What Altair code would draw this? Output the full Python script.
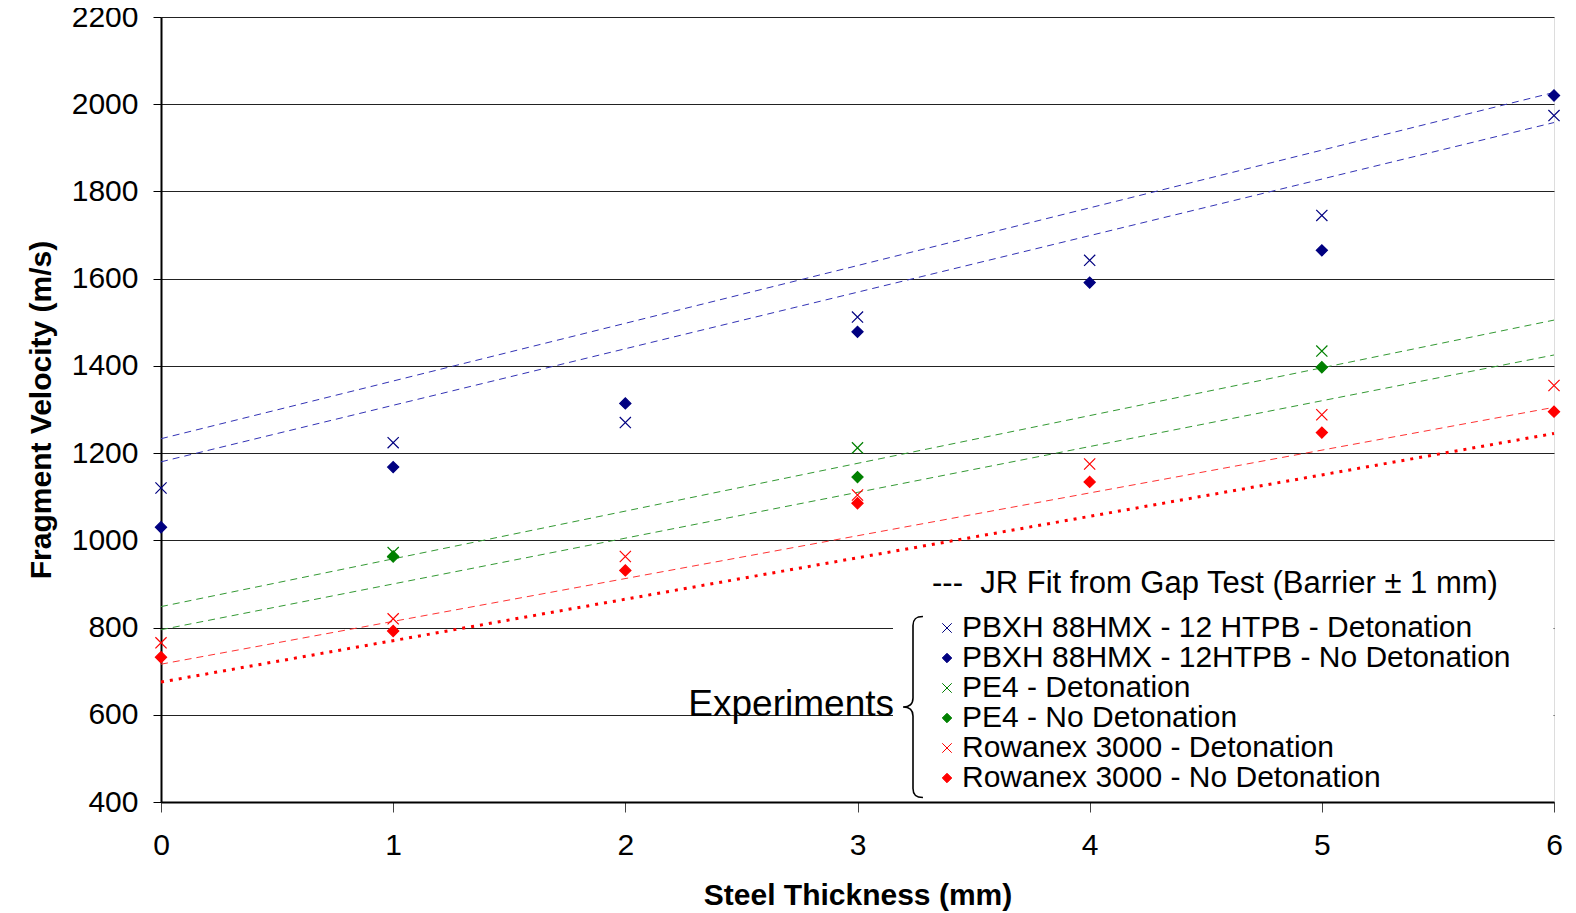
import altair as alt
import pandas as pd

# ---------------- data ----------------
thickness = [0, 1, 2, 3, 4, 5, 6]
pbxh_det = [1120, 1224, 1270, 1512, 1642, 1745, 1974]
pbxh_nodet = [1030, 1168, 1314, 1478, 1591, 1665, 2020]
pe4_thickness = [1, 3, 5]
pe4_det = [972, 1212, 1434]
pe4_nodet = [963, 1145, 1397]
row_det = [765, 820, 963, 1104, 1175, 1288, 1355]
row_nodet = [732, 792, 931, 1085, 1134, 1247, 1295]

series_names = [
    "PBXH 88HMX - 12 HTPB - Detonation",
    "PBXH 88HMX - 12HTPB - No Detonation",
    "PE4 - Detonation",
    "PE4 - No Detonation",
    "Rowanex 3000 - Detonation",
    "Rowanex 3000 - No Detonation",
]
series_colors = ["#000080", "#000080", "#008000", "#008000", "#FF0000", "#FF0000"]
X_PATH = "M-1,-1L1,1M1,-1L-1,1"
series_shapes = [X_PATH, "diamond", X_PATH, "diamond", X_PATH, "diamond"]

# JR fit lines (Barrier ± 1 mm), straight lines from 0 to 6 mm
fit_x = [0, 6]
dash_names = ["PBXH +1", "PBXH -1", "PE4 +1", "PE4 -1", "Rowanex +1"]
dash_start = [1233, 1180, 848, 795, 716]
dash_end = [2027, 1958, 1505, 1425, 1305]
dash_colors = ["#3333B5", "#3333B5", "#339933", "#339933", "#FF3333"]
dot_name = ["Rowanex -1"]
dot_start = [675]
dot_end = [1245]

y_ticks = [400, 600, 800, 1000, 1200, 1400, 1600, 1800, 2000, 2200]
x_ticks = [0, 1, 2, 3, 4, 5, 6]

FONT = "Liberation Sans"

# ---------------- tables ----------------
rows = []
for xs, vals, name in [
    (thickness, pbxh_det, series_names[0]),
    (thickness, pbxh_nodet, series_names[1]),
    (pe4_thickness, pe4_det, series_names[2]),
    (pe4_thickness, pe4_nodet, series_names[3]),
    (thickness, row_det, series_names[4]),
    (thickness, row_nodet, series_names[5]),
]:
    for xv, vv in zip(xs, vals):
        rows.append({"x": xv, "v": vv, "series": name})
points_df = pd.DataFrame(rows)


def fit_table(names, starts, ends):
    out = []
    for name, a, b in zip(names, starts, ends):
        out.append({"x": fit_x[0], "v": a, "fit": name})
        out.append({"x": fit_x[1], "v": b, "fit": name})
    return pd.DataFrame(out)


dash_df = fit_table(dash_names, dash_start, dash_end)
dot_df = fit_table(dot_name, dot_start, dot_end)

x_scale = alt.Scale(domain=[0, 6], nice=False, zero=False)
y_scale = alt.Scale(domain=[400, 2200], nice=False, zero=False)

x_axis = alt.Axis(
    values=x_ticks, title="Steel Thickness (mm)", format="d",
    labelFontSize=30, titleFontSize=30, titleFontWeight="bold",
    labelPadding=18, titlePadding=20, tickSize=10, tickColor="#444",
    domainColor="black", domainWidth=2, grid=False, labelColor="black",
    titleColor="black", labelFont=FONT, titleFont=FONT, labelFlush=False,
)
y_axis = alt.Axis(
    values=y_ticks, title="Fragment Velocity (m/s)", format="d",
    labelFontSize=30, titleFontSize=30, titleFontWeight="bold",
    labelPadding=15, titlePadding=15, tickSize=8, tickColor="black",
    domainColor="black", domainWidth=2, grid=True, gridColor="#222",
    gridWidth=1, labelColor="black", titleColor="black",
    labelFont=FONT, titleFont=FONT, labelFlush=False,
)

legend = alt.Legend(
    orient="none", legendX=771, legendY=552,
    title="---\u00a0\u00a0JR Fit from Gap Test (Barrier ± 1 mm)",
    titleFontSize=31, titleFontWeight="normal", titleColor="black",
    titleFont=FONT, titleLimit=0, titlePadding=13,
    labelFontSize=30, labelFont=FONT, labelColor="black", labelLimit=0,
    labelOffset=0, symbolSize=90, symbolStrokeWidth=1, rowPadding=0,
    padding=0,
)

# white box behind the legend (covers gridlines like the original)
box = alt.Chart(pd.DataFrame({"a": [0]})).mark_rect(fill="white").encode(
    x=alt.value(732), x2=alt.value(1392.6), y=alt.value(540), y2=alt.value(783)
)

dashed = alt.Chart(dash_df).mark_line(strokeWidth=1, strokeDash=[7, 5]).encode(
    x=alt.X("x:Q", scale=x_scale, axis=x_axis),
    y=alt.Y("v:Q", scale=y_scale, axis=y_axis),
    detail="fit:N",
    color=alt.Color("fit:N", scale=alt.Scale(domain=dash_names, range=dash_colors), legend=None),
)

dotted = alt.Chart(dot_df).mark_line(strokeWidth=3, strokeDash=[3, 6], color="#FF0000").encode(
    x=alt.X("x:Q", scale=x_scale, axis=x_axis),
    y=alt.Y("v:Q", scale=y_scale, axis=y_axis),
)

pts = alt.Chart(points_df).mark_point(filled=True, opacity=1, strokeWidth=1.2, size=125).encode(
    x=alt.X("x:Q", scale=x_scale, axis=x_axis),
    y=alt.Y("v:Q", scale=y_scale, axis=y_axis),
    fill=alt.Fill("series:N", scale=alt.Scale(domain=series_names, range=series_colors), legend=legend),
    stroke=alt.Stroke("series:N", scale=alt.Scale(domain=series_names, range=series_colors), legend=legend),
    shape=alt.Shape("series:N", scale=alt.Scale(domain=series_names, range=series_shapes), legend=legend),
)

experiments = alt.Chart(pd.DataFrame({"t": ["Experiments"]})).mark_text(
    align="right", baseline="alphabetic", fontSize=37, font=FONT, color="black"
).encode(text="t:N", x=alt.value(733), y=alt.value(699))

BRACE = ("M0.11,-1 C0.03,-1 0,-0.97 0,-0.9 L0,-0.1 C0,-0.03 -0.04,0 -0.11,0 "
         "C-0.04,0 0,0.03 0,0.1 L0,0.9 C0,0.97 0.03,1 0.11,1")
brace = alt.Chart(pd.DataFrame({"a": [0]})).mark_point(
    shape=BRACE, filled=False, stroke="black", strokeWidth=1.6, opacity=1, size=32761
).encode(x=alt.value(752), y=alt.value(690))

chart = alt.layer(box, dashed, dotted, pts, experiments, brace).properties(
    width=1393, height=785,
    autosize=alt.AutoSizeParams(type="none"),
    padding={"left": 153, "top": 9, "right": 14, "bottom": 110},
    background="white",
).configure_view(stroke="black", strokeWidth=1.5).configure(font=FONT)

chart.save("out.html", embed_options={"renderer": "svg", "actions": False})
